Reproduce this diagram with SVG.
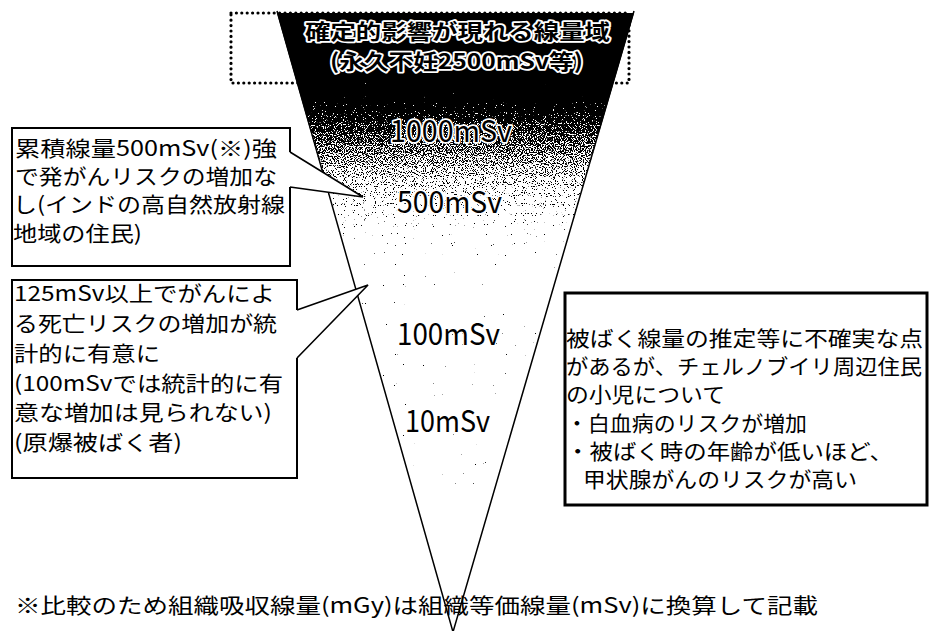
<svg xmlns="http://www.w3.org/2000/svg" width="929" height="631" viewBox="0 0 929 631">
<style>
  text { font-family: "Noto Sans CJK JP", "Noto Sans", sans-serif; fill: #000; }
  .box { fill: #fff; stroke: none; }
  .border { fill: none; stroke: #000; stroke-width: 2; }
  .border3 { fill: none; stroke: #000; stroke-width: 3; }
  .t1 { font-size: 21px; font-weight: 400; }
  .t3 { font-size: 21px; font-weight: 400; }
  .halo { stroke: #fff; stroke-width: 3.5; stroke-linejoin: round; paint-order: stroke; }
  .lab { font-size: 30px; font-weight: 400; }
  .ptr { fill: #fff; stroke: #000; stroke-width: 1.6; stroke-linejoin: miter; }
</style>
<defs>
  <linearGradient id="dens" x1="0" y1="13" x2="0" y2="600" gradientUnits="userSpaceOnUse">
    <stop offset="0" stop-color="#000" stop-opacity="1"/>
    <stop offset="0.12" stop-color="#000" stop-opacity="0.85"/>
    <stop offset="0.2" stop-color="#000" stop-opacity="0.6"/>
    <stop offset="0.28" stop-color="#000" stop-opacity="0.42"/>
    <stop offset="0.37" stop-color="#000" stop-opacity="0.28"/>
    <stop offset="0.455" stop-color="#000" stop-opacity="0.235"/>
    <stop offset="0.796" stop-color="#000" stop-opacity="0.22"/>
    <stop offset="0.898" stop-color="#000" stop-opacity="0.1"/>
    <stop offset="1" stop-color="#000" stop-opacity="0"/>
  </linearGradient>
  <filter id="stip" x="0" y="0" width="1" height="1" color-interpolation-filters="sRGB">
    <feTurbulence type="fractalNoise" baseFrequency="0.9" numOctaves="1" seed="7" result="noise"/>
    <feColorMatrix in="noise" type="matrix" values="0 0 0 0 0  0 0 0 0 0  0 0 0 0 0  1 0 0 0 0" result="na"/>
    <feComposite in="SourceGraphic" in2="na" operator="arithmetic" k1="0" k2="1" k3="-1" k4="0" result="diff"/>
    <feComponentTransfer in="diff">
      <feFuncA type="linear" slope="30" intercept="0"/>
    </feComponentTransfer>
  </filter>
  <clipPath id="tri">
    <polygon points="277,13 634,13 453,632"/>
  </clipPath>
</defs>
<rect width="929" height="631" fill="#fff"/>

<g id="funnel">
  <g clip-path="url(#tri)">
    <rect x="270" y="10" width="370" height="622" fill="url(#dens)" filter="url(#stip)"/>
  </g>
  <polyline points="277,11 453,632 634,11" fill="none" stroke="#000" stroke-width="1.5"/>
  <rect x="231" y="13" width="398" height="70" fill="none" stroke="#000" stroke-width="3.2" stroke-linecap="round" stroke-dasharray="0 5.4"/>
  <text class="halo" x="305" y="39" font-size="21" font-weight="700" textLength="305" lengthAdjust="spacingAndGlyphs">確定的影響が現れる線量域</text>
  <text class="halo" x="330" y="69" font-size="21" font-weight="700" textLength="253" lengthAdjust="spacingAndGlyphs">(永久不妊2500mSv等)</text>
  <text class="lab halo" x="390" y="142" textLength="122" lengthAdjust="spacingAndGlyphs">1000mSv</text>
  <text class="lab halo" x="397" y="213" font-size="28" textLength="105" lengthAdjust="spacingAndGlyphs">500mSv</text>
  <text class="lab" x="397" y="345" font-size="28" textLength="103" lengthAdjust="spacingAndGlyphs">100mSv</text>
  <text class="lab" x="405" y="432" font-size="28" textLength="85" lengthAdjust="spacingAndGlyphs">10mSv</text>
</g>

<g id="box-india">
  <rect class="box" x="12" y="128" width="278" height="138"/>
  <path class="border" d="M290,152 V128 H12 V266 H290 V187"/>
  <text class="t1" x="15" y="156" textLength="262" lengthAdjust="spacingAndGlyphs">累積線量500mSv(※)強</text>
  <text class="t1" x="15" y="184" textLength="262" lengthAdjust="spacingAndGlyphs">で発がんリスクの増加な</text>
  <text class="t1" x="13" y="212" textLength="272" lengthAdjust="spacingAndGlyphs">し(インドの高自然放射線</text>
  <text class="t1" x="13" y="241" textLength="129" lengthAdjust="spacingAndGlyphs">地域の住民)</text>
</g>

<g id="box-abomb">
  <rect class="box" x="12" y="280" width="285" height="198"/>
  <path class="border" d="M297,310 V280 H12 V478 H297 V358"/>
  <text class="t1" x="14" y="301" textLength="261" lengthAdjust="spacingAndGlyphs">125mSv以上でがんによ</text>
  <text class="t1" x="14" y="331" textLength="263" lengthAdjust="spacingAndGlyphs">る死亡リスクの増加が統</text>
  <text class="t1" x="14" y="361" textLength="146" lengthAdjust="spacingAndGlyphs">計的に有意に</text>
  <text class="t1" x="14" y="391" textLength="269" lengthAdjust="spacingAndGlyphs">(100mSvでは統計的に有</text>
  <text class="t1" x="14" y="420" textLength="258" lengthAdjust="spacingAndGlyphs">意な増加は見られない)</text>
  <text class="t1" x="14" y="450" textLength="168" lengthAdjust="spacingAndGlyphs">(原爆被ばく者)</text>
</g>

<g id="box-chernobyl">
  <rect x="565" y="293" width="362" height="212" fill="#fff" class="border3"/>
  <text class="t3" x="566" y="346" textLength="357" lengthAdjust="spacingAndGlyphs">被ばく線量の推定等に不確実な点</text>
  <text class="t3" x="566" y="374" textLength="356" lengthAdjust="spacingAndGlyphs">があるが、チェルノブイリ周辺住民</text>
  <text class="t3" x="566" y="402" textLength="159" lengthAdjust="spacingAndGlyphs">の小児について</text>
  <text class="t3" x="566" y="431" textLength="241" lengthAdjust="spacingAndGlyphs">・白血病のリスクが増加</text>
  <text class="t3" x="566" y="459" textLength="327" lengthAdjust="spacingAndGlyphs">・被ばく時の年齢が低いほど、</text>
  <text class="t3" x="583" y="487" textLength="274" lengthAdjust="spacingAndGlyphs">甲状腺がんのリスクが高い</text>
</g>

<g id="connectors">
  <path class="ptr" d="M290,152 L363,197 L290,187"/>
  <path class="ptr" d="M297,310 L368,285 L297,358"/>
</g>

<g id="footnote">
  <text class="t3" x="15" y="613" font-size="22" textLength="803" lengthAdjust="spacingAndGlyphs">※比較のため組織吸収線量(mGy)は組織等価線量(mSv)に換算して記載</text>
</g>
</svg>
